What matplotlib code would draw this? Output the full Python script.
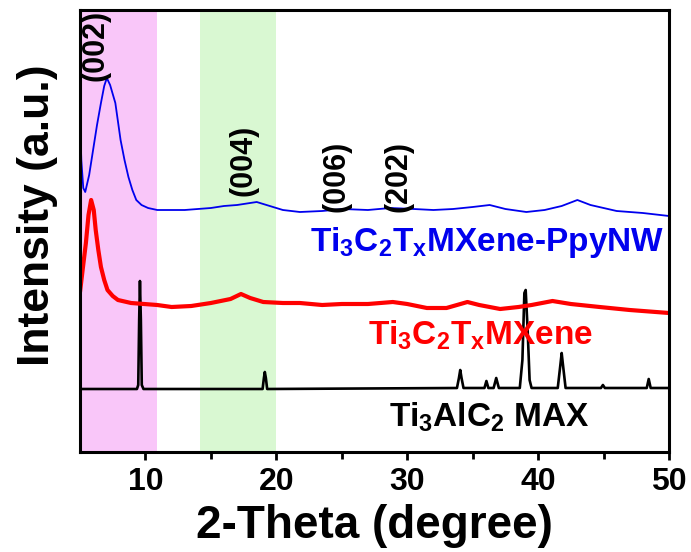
import matplotlib
matplotlib.use('Agg')
import matplotlib.pyplot as plt

plt.rcParams['font.family'] = ['Liberation Sans', 'DejaVu Sans']
plt.rcParams['font.weight'] = 'bold'
plt.rcParams['mathtext.fontset'] = 'custom'
plt.rcParams['mathtext.bf'] = 'Liberation Sans:bold'
plt.rcParams['mathtext.rm'] = 'Liberation Sans:bold'

# XRD patterns, intensity in arbitrary offset units
x_pnw = [5.02, 5.1, 5.25, 5.4, 5.7, 6.0, 6.3, 6.6, 6.85, 7.05, 7.3, 7.7, 8.1,
         8.4, 8.7, 9.0, 9.3, 9.7, 10.2, 10.9, 12, 13, 14, 15, 16, 17, 18.5,
         19.5, 20.5, 21.8, 23.5, 25.1, 27, 28.7, 30.5, 32.0, 33.5, 35, 36.3,
         37.5, 39.1, 40.5, 41.8, 43.0, 44, 46.0, 48, 50]
y_pnw = [325, 292, 264, 260, 277, 302, 327, 349, 366, 374, 367, 349, 312,
         292, 275, 262, 252, 247, 244, 242, 242, 242, 243, 244, 246, 247, 250,
         246, 242, 240, 241, 243, 242, 244, 243, 242, 243, 245, 247,
         243, 240, 242, 246, 252, 247, 241, 239, 236]

x_mx = [5.02, 5.2, 5.45, 5.65, 5.85, 6.05, 6.2, 6.4, 6.6, 6.85, 7.1, 7.5, 7.9,
        8.9, 10.9, 12, 13.5, 15, 16.5, 17.3, 18, 19, 20.5, 21.8, 23.5, 25, 27,
        28.9, 30, 31.5, 33, 34.6, 35.5, 37.1, 38.5, 39.5, 41.1, 42.5, 44.7,
        47, 50]
y_mx = [162, 182, 209, 237, 252, 242, 222, 202, 185, 172, 162, 156, 152,
        149, 147, 145, 146, 149, 153, 158, 154, 150, 149, 149, 147, 148, 148,
        150, 148, 144, 144, 150, 147, 143, 145, 147, 151, 148, 145,
        142, 139]

x_max = [5, 9.35, 9.45, 9.52, 9.58, 9.65, 9.72, 9.85, 18.95, 19.05, 19.12,
         19.2, 19.3, 33.8, 33.95, 34.05, 34.15, 34.3, 35.9, 36.05, 36.2, 36.6,
         36.8, 37.0, 38.6, 38.8, 38.95, 39.05, 39.2, 39.35, 39.5, 41.5, 41.7,
         41.8, 41.9, 42.1, 44.8, 44.95, 45.1, 48.3, 48.45, 48.6, 50]
y_max = [63, 63, 67, 132, 171, 132, 67, 63, 63, 74, 80,
         74, 63, 64, 74, 82, 74, 64, 64, 71, 64, 64,
         74, 64, 64, 92, 159, 162, 122, 72, 64, 64, 87,
         99, 87, 64, 64, 67, 64, 64, 73, 64, 64]

hkl_labels = ['(002)', '(004)', '(006)', '(202)']
hkl_x = [6.2, 17.5, 24.6, 29.3]
hkl_y = [407, 292, 276, 276]

fig = plt.figure(figsize=(6.91, 5.52), dpi=100)
ax = fig.add_axes([80 / 691, 100 / 552, 589 / 691, 442 / 552])

ax.axvspan(5, 10.9, color='#f9c6f9', lw=0)
ax.axvspan(14.2, 19.95, color='#d9f8d2', lw=0)

ax.plot(x_max, y_max, color='k', lw=1.9)
ax.plot(x_mx, y_mx, color='#ff0000', lw=3.0)
ax.plot(x_pnw, y_pnw, color='#0000ee', lw=1.3)

for lab, px, py in zip(hkl_labels, hkl_x, hkl_y):
    ax.text(px, py, lab, rotation=90, ha='center', va='center',
            fontsize=22, fontweight='bold')

ax.text(36.1, 209, r'$\mathbf{Ti_3C_2T_x}$MXene-PpyNW', color='#0000ee',
        ha='center', va='center', fontsize=24, fontweight='bold')
ax.text(35.6, 117, r'$\mathbf{Ti_3C_2T_x}$MXene', color='#ff0000',
        ha='center', va='center', fontsize=24, fontweight='bold')
ax.text(36.3, 35, r'$\mathbf{Ti_3AlC_2}$ MAX', color='k',
        ha='center', va='center', fontsize=24, fontweight='bold')

ax.set_xlim(5, 50)
ax.set_ylim(0, 442)
ax.set_xticks([10, 20, 30, 40, 50])
ax.set_xticks([15, 25, 35, 45], minor=True)
ax.set_yticks([])
ax.tick_params(axis='x', which='both', direction='out', width=2, length=6,
               labelsize=23, pad=5)
ax.tick_params(axis='x', which='minor', length=5)
for s in ax.spines.values():
    s.set_linewidth(2.2)

ax.set_xlabel('2-Theta (degree)', fontsize=33, fontweight='bold', labelpad=5)
ax.set_ylabel('Intensity (a.u.)', fontsize=32, fontweight='bold')
ax.yaxis.set_label_coords(-0.038, 0.536)

fig.savefig('out.png', dpi=100)
